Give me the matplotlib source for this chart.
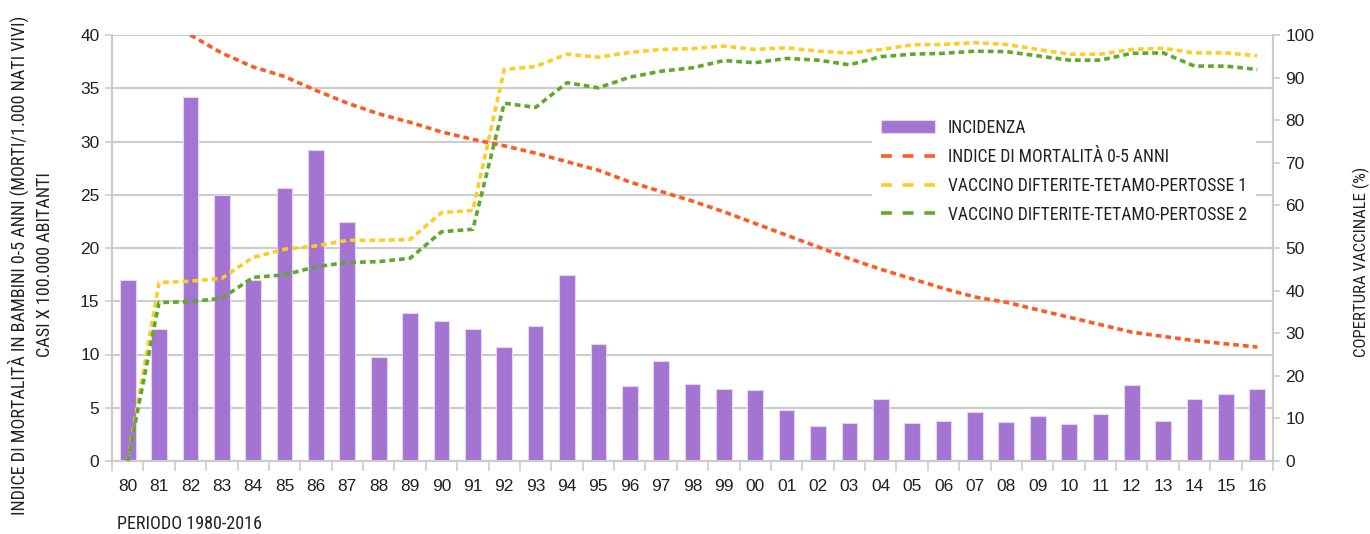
import matplotlib
matplotlib.use('Agg')
import matplotlib.pyplot as plt
from matplotlib import font_manager
from matplotlib.lines import Line2D
from matplotlib.patches import Patch
import numpy as np

years = ['80', '81', '82', '83', '84', '85', '86', '87', '88', '89',
         '90', '91', '92', '93', '94', '95', '96', '97', '98', '99',
         '00', '01', '02', '03', '04', '05', '06', '07', '08', '09',
         '10', '11', '12', '13', '14', '15', '16']
incidenza = [17.0, 12.4, 34.2, 25.0, 17.0, 25.6, 29.2, 22.4, 9.8, 13.9,
             13.1, 12.4, 10.7, 12.7, 17.5, 11.0, 7.0, 9.4, 7.2, 6.8,
             6.7, 4.8, 3.3, 3.6, 5.85, 3.6, 3.8, 4.6, 3.7, 4.2,
             3.45, 4.4, 7.1, 3.8, 5.85, 6.3, 6.8]
mortalita = [np.nan, np.nan, 40.0, 38.3, 37.0, 36.1, 34.8, 33.6, 32.6, 31.8,
             30.9, 30.2, 29.6, 28.9, 28.1, 27.3, 26.2, 25.3, 24.4, 23.4,
             22.3, 21.2, 20.1, 19.0, 18.0, 17.1, 16.2, 15.4, 14.9, 14.2,
             13.5, 12.8, 12.1, 11.7, 11.3, 11.0, 10.7]
vaccino1 = [0, 41.9, 42.2, 42.9, 47.8, 49.7, 50.5, 51.8, 51.8, 52.0,
            58.3, 58.8, 91.9, 92.6, 95.5, 94.8, 95.9, 96.6, 96.8, 97.4,
            96.6, 97.0, 96.2, 95.8, 96.6, 97.7, 97.8, 98.2, 97.8, 96.6,
            95.5, 95.5, 96.6, 96.9, 95.8, 95.8, 95.1]
vaccino2 = [0, 37.2, 37.4, 38.2, 43.1, 43.7, 45.6, 46.6, 46.8, 47.6,
            53.8, 54.4, 84.0, 83.0, 88.8, 87.6, 90.1, 91.5, 92.3, 94.0,
            93.5, 94.5, 94.1, 93.0, 94.9, 95.5, 95.7, 96.2, 96.1, 95.1,
            94.1, 94.1, 95.7, 95.8, 92.7, 92.7, 91.9]
left_ticks = [0, 5, 10, 15, 20, 25, 30, 35, 40]
right_ticks = [0, 10, 20, 30, 40, 50, 60, 70, 80, 90, 100]
legend_labels = ['INCIDENZA', 'INDICE DI MORTALITÀ 0-5 ANNI',
                 'VACCINO DIFTERITE-TETAMO-PERTOSSE 1', 'VACCINO DIFTERITE-TETAMO-PERTOSSE 2']
left_label = 'INDICE DI MORTALITÀ IN BAMBINI 0-5 ANNI (MORTI/1.000 NATI VIVI)\nCASI X 100.000 ABITANTI'
right_label = 'COPERTURA VACCINALE (%)'
x_note = 'PERIODO 1980-2016'

names = {f.name for f in font_manager.fontManager.ttflist}
cond = 'Roboto'
for cand in ['Liberation Sans Narrow', 'Roboto Condensed', 'Open Sans Condensed',
             'Noto Sans Condensed', 'DejaVu Sans Condensed', 'Roboto']:
    if cand in names:
        cond = cand
        break
tickfont = 'Liberation Sans'

BAR = '#A374D1'
RED = '#FF5A24'
YEL = '#FFCC22'
GRN = '#5EA82C'
GRID = '#CCCCCC'
TXT = '#222222'

fig = plt.figure(figsize=(13.7, 5.34), dpi=100)
renderer = fig.canvas.get_renderer()


def fit_size(text, target_px, base=12.0, family=cond):
    t = fig.text(0, 0, text, fontsize=base, family=family)
    w = t.get_window_extent(renderer=renderer).width
    t.remove()
    return base * target_px / w


ax = fig.add_axes([112/1370, 1-461/534, (1273-112)/1370, (461-35)/534])
ax2 = ax.twinx()

x = np.arange(len(years))
ax.bar(x, incidenza, width=0.5, color=BAR, edgecolor='#E4D6F2', linewidth=0.8, zorder=2)
ax.plot(x, mortalita, color=RED, lw=2.6, dashes=(1.6, 1.1), zorder=3)
ax2.plot(x, vaccino1, color=YEL, lw=2.6, dashes=(1.6, 1.1), zorder=3)
ax2.plot(x, vaccino2, color=GRN, lw=2.6, dashes=(1.6, 1.1), zorder=3)

ax.set_xlim(-0.5, len(years) - 0.5)
ax.set_ylim(0, 40)
ax2.set_ylim(0, 100)
ax.set_yticks(left_ticks)
ax2.set_yticks(right_ticks)
ax.set_xticks(x)
ax.set_xticklabels(years)
ax.set_xticks(np.arange(-0.5, len(years)), minor=True)
ax.tick_params(axis='x', which='major', length=0, pad=13, labelsize=12.5, labelcolor=TXT)
ax.tick_params(axis='x', which='minor', length=7, color=GRID, width=1.2)
ax.tick_params(axis='y', length=5, color=GRID, width=1.2, labelsize=12.5, labelcolor=TXT, pad=4)
ax2.tick_params(axis='y', length=5, color=GRID, width=1.2, labelsize=12.5, labelcolor=TXT, pad=4)
for lab in ax.get_xticklabels() + ax.get_yticklabels() + ax2.get_yticklabels():
    lab.set_family(tickfont)

ax.yaxis.grid(True, color=GRID, lw=1.5, zorder=0)
ax.set_axisbelow(True)
for a in (ax, ax2):
    a.spines['top'].set_visible(False)
    for s in ('left', 'right', 'bottom'):
        a.spines[s].set_color(GRID)
        a.spines[s].set_linewidth(1.5)

lsize = fit_size(left_label.split('\n')[0], 498)
fig.text(31/1370, 1-265/534, left_label,
         rotation=90, ha='center', va='center', fontsize=lsize, family=cond, color=TXT,
         multialignment='center', linespacing=1.45)
rsize = fit_size(right_label, 190)
fig.text(1361/1370, 1-262/534, right_label, rotation=90, ha='center', va='center',
         fontsize=rsize, family=cond, color=TXT)
nsize = fit_size(x_note, 145)
fig.text(117/1370, 1-524/534, x_note, ha='left', va='center', fontsize=nsize,
         family=cond, color=TXT)

gsize = fit_size(legend_labels[3], 298)
handles = [
    Patch(facecolor=BAR, edgecolor='#E4D6F2', linewidth=0.8),
    Line2D([], [], color=RED, lw=2.6, dashes=(3.0, 3.0)),
    Line2D([], [], color=YEL, lw=2.6, dashes=(3.0, 3.0)),
    Line2D([], [], color=GRN, lw=2.6, dashes=(3.0, 3.0)),
]
leg = ax2.legend(handles, legend_labels, loc='upper left', bbox_to_anchor=(872/1370, 1-110/534),
                 bbox_transform=fig.transFigure, frameon=True, facecolor='white', edgecolor='none',
                 framealpha=1, fancybox=False, prop={'family': cond, 'size': gsize},
                 handlelength=54/(gsize*100/72), handletextpad=13/(gsize*100/72),
                 labelspacing=0.62, borderpad=0.5, borderaxespad=0)
for t in leg.get_texts():
    t.set_color(TXT)

fig.savefig('out.png', dpi=100, facecolor='white')
